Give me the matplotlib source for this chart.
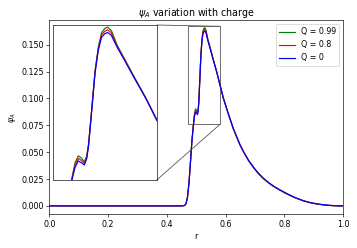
import matplotlib
matplotlib.use("Agg")
import matplotlib.pyplot as plt
from mpl_toolkits.axes_grid1.inset_locator import mark_inset

# radial coordinate
r = [0.0, 0.45, 0.46, 0.465, 0.47, 0.475, 0.48, 0.485, 0.49, 0.494,
     0.4975, 0.501, 0.504, 0.5065, 0.5085, 0.512, 0.5155, 0.519, 0.5225,
     0.526, 0.529, 0.533, 0.539, 0.547, 0.557, 0.57, 0.582, 0.592, 0.609,
     0.626, 0.6486, 0.663, 0.677, 0.694, 0.711, 0.728, 0.748, 0.767, 0.787,
     0.803, 0.819, 0.841, 0.864, 0.886, 0.909, 0.932, 0.955, 0.977, 1.0]

# psi_A for Q = 0
psi_q0 = [0.0, 0.0, 0.0004, 0.002, 0.008, 0.021, 0.040, 0.060, 0.0745, 0.0835,
          0.0873, 0.0862, 0.0849, 0.0885, 0.0960, 0.1172, 0.1390, 0.1524, 0.1600,
          0.1620, 0.1627, 0.1610, 0.1542, 0.1465, 0.1365, 0.1240, 0.1112, 0.1005, 0.0858,
          0.0720, 0.0570, 0.0494, 0.0428, 0.0362, 0.0305, 0.0258, 0.0213, 0.0177, 0.0146,
          0.0122, 0.0100, 0.0072, 0.0049, 0.0032, 0.0020, 0.0011, 0.0005, 0.0001, 0.0]

# psi_A for Q = 0.8
psi_q08 = [0.0, 0.0, 0.0004, 0.002, 0.008, 0.021, 0.040, 0.060, 0.0750, 0.0848,
           0.0888, 0.0876, 0.0858, 0.0893, 0.0966, 0.1178, 0.1397, 0.1533, 0.1613,
           0.1635, 0.1643, 0.1624, 0.1548, 0.1469, 0.1368, 0.1241, 0.1110, 0.1003, 0.0856,
           0.0718, 0.0568, 0.0492, 0.0426, 0.0360, 0.0303, 0.0256, 0.0211, 0.0175, 0.0144,
           0.0120, 0.0098, 0.0071, 0.0048, 0.0031, 0.0019, 0.0010, 0.0004, 0.0001, 0.0]

# psi_A for Q = 0.99
psi_q099 = [0.0, 0.0, 0.0004, 0.002, 0.008, 0.021, 0.040, 0.060, 0.0755, 0.0862,
            0.0903, 0.0889, 0.0868, 0.0901, 0.0972, 0.1184, 0.1404, 0.1542, 0.1626,
            0.1651, 0.1659, 0.1638, 0.1555, 0.1473, 0.1371, 0.1242, 0.1108, 0.1001, 0.0854,
            0.0716, 0.0566, 0.0490, 0.0424, 0.0358, 0.0301, 0.0254, 0.0209, 0.0173, 0.0142,
            0.0118, 0.0096, 0.0070, 0.0047, 0.0030, 0.0018, 0.0010, 0.0004, 0.0001, 0.0]

fig = plt.figure(figsize=(357 / 57, 248 / 57), dpi=57)
ax = fig.add_axes([0.1381, 0.1359, 0.8235, 0.7822])

ax.plot(r, psi_q099, color='g', label='Q = 0.99')
ax.plot(r, psi_q08, color='r', label='Q = 0.8')
ax.plot(r, psi_q0, color='b', label='Q = 0')
ax.set_xlim(0, 1)
ax.set_ylim(-0.0078, 0.1727)
ax.set_xlabel('r')
ax.set_ylabel(r'$\psi_A$')
ax.set_title(r'$\psi_A$ variation with charge')
ax.legend(loc='upper right')

# zoomed inset on the double peak
axins = ax.inset_axes([0.0136, 0.1768, 0.3517, 0.799])
axins.plot(r, psi_q099, color='g')
axins.plot(r, psi_q08, color='r')
axins.plot(r, psi_q0, color='b')
axins.set_xlim(0.4707, 0.5816)
axins.set_ylim(0.0761, 0.1671)
axins.set_xticks([])
axins.set_yticks([])
mark_inset(ax, axins, loc1=1, loc2=4, fc="none", ec="0.3")

fig.savefig('out.png', dpi=57)
